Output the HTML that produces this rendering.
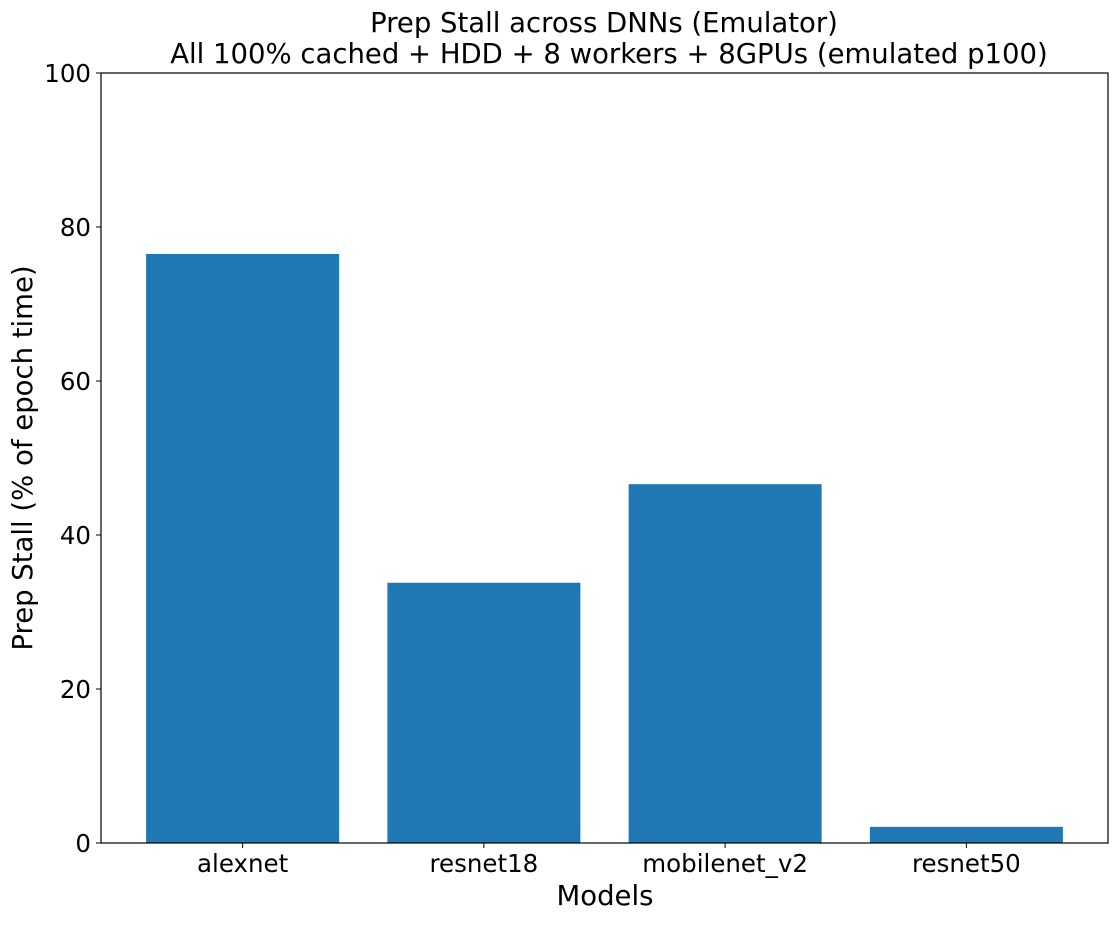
<!DOCTYPE html>
<html><head><meta charset="utf-8"><style>
body{margin:0;background:#fff;}
svg text{font-family:"DejaVu Sans","Liberation Sans",sans-serif;fill:#000;}
</style></head><body>
<svg id="chart" width="1118" height="921" xmlns="http://www.w3.org/2000/svg">
<text x="604" y="32" font-size="27.5" text-anchor="middle">Prep Stall across DNNs (Emulator)</text>
<text x="609" y="63" font-size="27.5" text-anchor="middle">All 100% cached + HDD + 8 workers + 8GPUs (emulated p100)</text>
<g id="bars"></g>
<g id="axes"></g>
<text x="605" y="905" font-size="27.5" text-anchor="middle">Models</text>
<text transform="translate(32,458) rotate(-90)" font-size="27.5" text-anchor="middle">Prep Stall (% of epoch time)</text>
</svg>
<script>
const categories=["alexnet","resnet18","mobilenet_v2","resnet50"];
const values=[76.5,33.8,46.6,2.1];
const yTicks=[0,20,40,60,80,100];
const L=101,R=1108,T=73,B=843,NS="http://www.w3.org/2000/svg";
const unit=(R-L)/(categories.length-1+2*0.587);
const x=i=>L+(i+0.587)*unit;
const y=v=>B-(v/100)*(B-T);
const bars=document.getElementById('bars'),axes=document.getElementById('axes');
function mk(t,a,p){const e=document.createElementNS(NS,t);for(const k in a)e.setAttribute(k,a[k]);p.appendChild(e);return e;}
values.forEach((v,i)=>{
  const r=mk('rect',{x:x(i)-0.4*unit,y:y(v),width:0.8*unit,height:B-y(v),fill:'#1f77b4'},bars);
  
  
  const tk=mk('line',{x1:x(i),x2:x(i),y1:B,y2:B+5,stroke:'#000','stroke-width':1},axes);
  
  
  const tl=mk('text',{x:x(i),y:B+29,'font-size':24.5,'text-anchor':'middle'},axes);
  tl.textContent=categories[i];
  
  
});
yTicks.forEach(v=>{
  const tk=mk('line',{x1:L-5,x2:L,y1:y(v),y2:y(v),stroke:'#000','stroke-width':1},axes);
  
  
  const tl=mk('text',{x:L-10,y:y(v)+9,'font-size':24.5,'text-anchor':'end'},axes);
  tl.textContent=v;
  
  
});
const f=mk('rect',{x:L,y:T,width:R-L,height:B-T,fill:'none',stroke:'#000','stroke-width':1.2},axes);


</script>
</body></html>
